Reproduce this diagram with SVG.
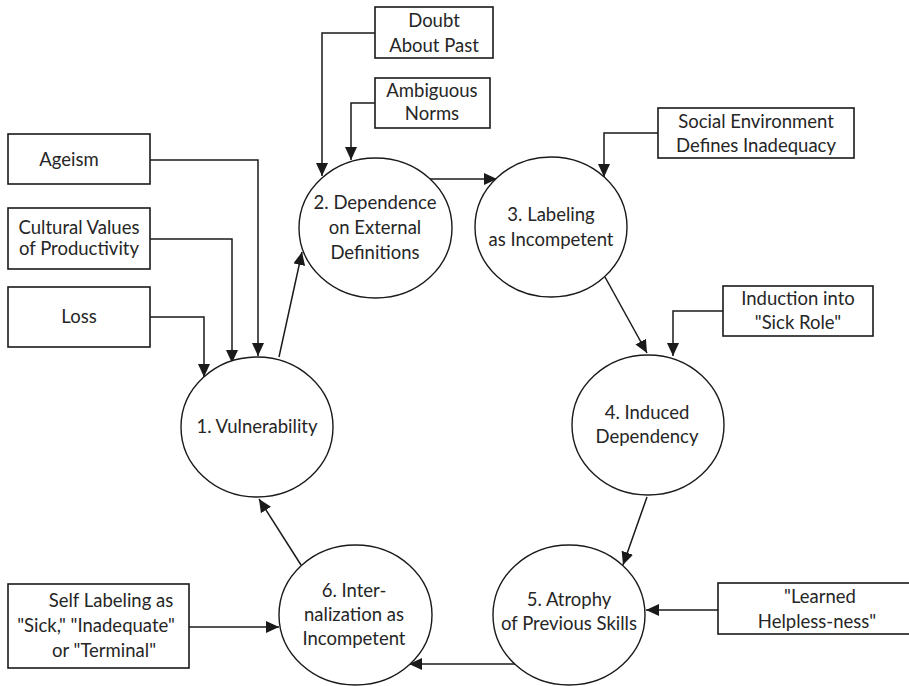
<svg xmlns="http://www.w3.org/2000/svg" width="909" height="686" viewBox="0 0 909 686">
<style>
.n ellipse{fill:#fff;stroke:#1a1a1a;stroke-width:1.4}
.b rect{fill:#fff;stroke:#1a1a1a;stroke-width:1.6}
text{font-family:Lato,"Open Sans","Liberation Sans",sans-serif;font-size:18.5px;fill:#262626;text-anchor:middle}
.c path{fill:none;stroke:#1a1a1a;stroke-width:1.5;marker-end:url(#ah)}
</style>
<defs>
<marker id="ah" markerUnits="userSpaceOnUse" markerWidth="13" markerHeight="12" refX="13" refY="6" orient="auto">
<path d="M0,0 L13,6 L0,12 z" fill="#1a1a1a"/>
</marker>
</defs>
<rect width="909" height="686" fill="#fff"/>
<g class="c" id="connectors">
<path d="M375,33 H322 V176"/>
<path d="M375,103 H351 V160"/>
<path d="M150,160 H258 V356"/>
<path d="M150,239 H232 V363"/>
<path d="M150,317 H204 V377"/>
<path d="M279,357 L302,252"/>
<path d="M430,179 L497,179"/>
<path d="M658,133 H604 V177"/>
<path d="M605,277 L647,353"/>
<path d="M723,311 H673 V356"/>
<path d="M647,497 L623,565"/>
<path d="M718,610 H646"/>
<path d="M516,664 H409"/>
<path d="M189,627 H279"/>
<path d="M301,565 L259,499"/>
</g>
<g class="n" id="n1"><ellipse cx="257" cy="427" rx="76" ry="70"/><text x="257" y="433">1. Vulnerability</text></g>
<g class="n" id="n2"><ellipse cx="375.5" cy="228" rx="76.5" ry="70"/><text x="375" y="209">2. Dependence</text><text x="375" y="234">on External</text><text x="375" y="259">Definitions</text></g>
<g class="n" id="n3"><ellipse cx="551" cy="227" rx="76" ry="70"/><text x="551" y="221">3. Labeling</text><text x="551" y="246">as Incompetent</text></g>
<g class="n" id="n4"><ellipse cx="648" cy="425" rx="76" ry="70"/><text x="647" y="419">4. Induced</text><text x="647" y="443">Dependency</text></g>
<g class="n" id="n5"><ellipse cx="569" cy="615" rx="76" ry="70"/><text x="569" y="606">5. Atrophy</text><text x="569" y="630">of Previous Skills</text></g>
<g class="n" id="n6"><ellipse cx="355.5" cy="615" rx="76.5" ry="70"/><text x="354" y="597">6. Inter-</text><text x="354" y="621">nalization as</text><text x="354" y="645">Incompetent</text></g>
<g class="b" id="doubt"><rect x="375" y="7" width="118" height="51"/><text x="434" y="27">Doubt</text><text x="434" y="52">About Past</text></g>
<g class="b" id="ambiguous"><rect x="375" y="78" width="115" height="50"/><text x="432" y="97">Ambiguous</text><text x="432" y="120">Norms</text></g>
<g class="b" id="ageism"><rect x="8" y="134" width="142" height="50"/><text x="69" y="166">Ageism</text></g>
<g class="b" id="cultural"><rect x="8" y="208" width="142" height="61"/><text x="79" y="234">Cultural Values</text><text x="79" y="255">of Productivity</text></g>
<g class="b" id="loss"><rect x="8" y="287" width="142" height="60"/><text x="79" y="323">Loss</text></g>
<g class="b" id="social"><rect x="658" y="108" width="196" height="50"/><text x="756" y="128">Social Environment</text><text x="756" y="152">Defines Inadequacy</text></g>
<g class="b" id="induction"><rect x="723" y="286" width="150" height="50"/><text x="798" y="305">Induction into</text><text x="798" y="329">"Sick Role"</text></g>
<g class="b" id="learned"><rect x="718" y="583" width="202" height="51"/><text x="820" y="603">"Learned</text><text x="817" y="628">Helpless-ness"</text></g>
<g class="b" id="self"><rect x="8" y="584" width="181" height="84"/><text x="111" y="607">Self Labeling as</text><text x="96" y="632">"Sick," "Inadequate"</text><text x="104" y="657">or "Terminal"</text></g>
</svg>
